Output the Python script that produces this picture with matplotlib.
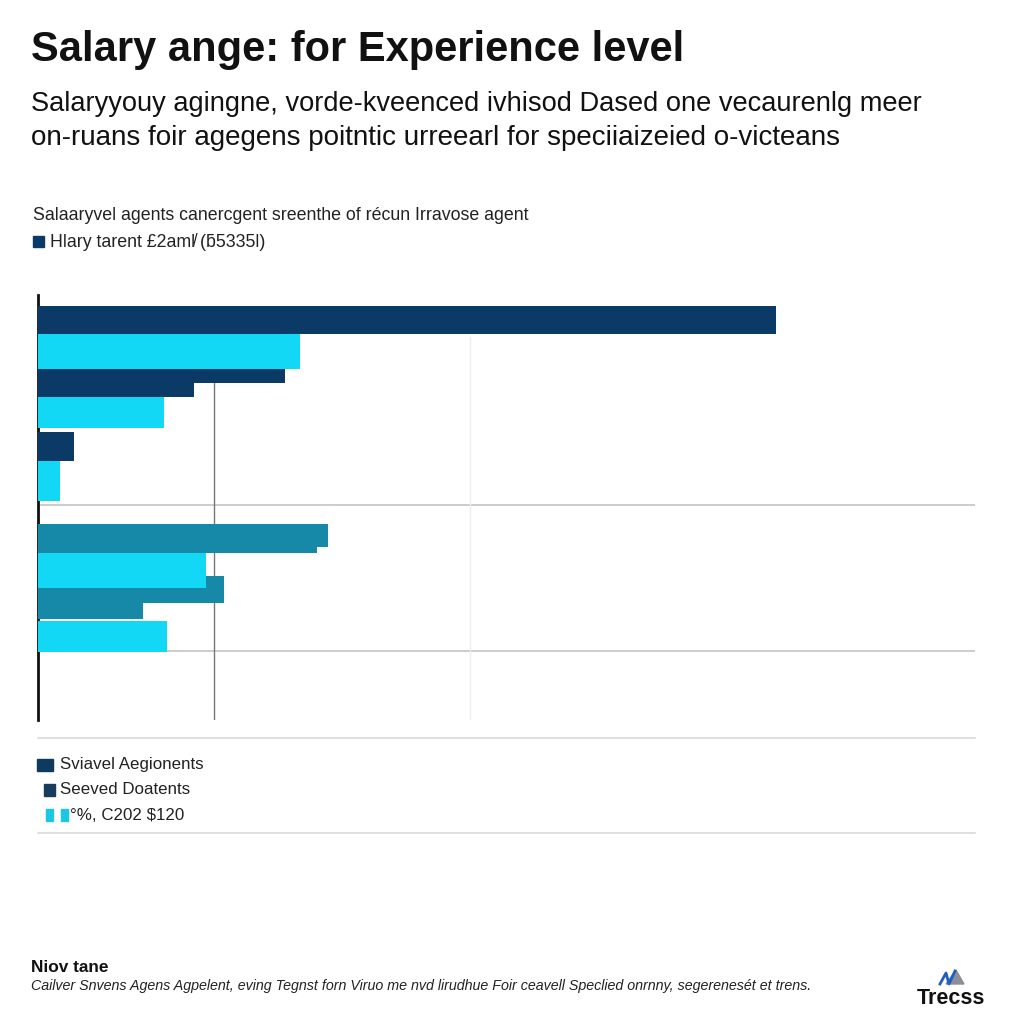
import matplotlib
matplotlib.use("Agg")
import matplotlib.pyplot as plt
from matplotlib.lines import Line2D
from matplotlib.patches import Rectangle, Polygon

# ---------------- data ----------------
title = "Salary ange: for Experience level"
subtitle_lines = [
    "Salaryyouy agingne, vorde-kveenced ivhisod Dased one vecaurenlg meer",
    "on-ruans foir agegens poitntic urreearl for speciiaizeied o-victeans",
]
top_note = "Salaaryvel agents canercgent sreenthe of récun Irravose agent"
top_legend = "Hlary tarent £2aml̸ (ƃ5335l)"
legend_labels = ["Sviavel Aegionents", "Seeved Doatents", "°%, C202 $120"]
footer_head = "Niov tane"
footer_text = ("Cailver Snvens Agens Agpelent, eving Tegnst forn Viruo me nvd lirudhue "
               "Foir ceavell Speclied onrnny, segerenesét et trens.")
logo_text = "Trecss"

# bar widths (percent of axis range)
navy_vals = [78.8, 26.4, 16.6, 3.8]
cyan_top_vals = [28.0, 13.4, 2.3]
teal_vals = [30.9, 29.8, 19.8, 11.2]
cyan_bottom_vals = [17.9, 13.8]
ref_line_value = 18.8
faint_line_value = 46.1

# ---------------- style ----------------
NAVY = "#0b3a66"
CYAN = "#12d8f5"
TEAL = "#1688a8"
SANS = ["Liberation Sans", "DejaVu Sans"]

W = H = 1024
fig = plt.figure(figsize=(10.24, 10.24), dpi=100)
fig.patch.set_facecolor("white")

def fx(px):
    return px / W

def fy(py):
    return 1 - py / H

# axes: pixel box x 38..975, y 295..720
ax = fig.add_axes([fx(38), fy(720), fx(975) - fx(38), fy(295) - fy(720)])
ax.set_xlim(0, 100)
ax.set_ylim(425, 0)  # pixel offsets from the top of the axes

# layout: (top offset, bottom offset) for every bar
navy_rows = [(11, 39), (74, 88), (88, 102), (137, 166)]
cyan_top_rows = [(39, 74), (102, 133), (166, 206)]
teal_rows = [(229, 252), (252, 258), (281, 308), (308, 324)]
cyan_bottom_rows = [(258, 293), (326, 357)]

def draw(vals, rows, color, z):
    ys = [(a + b) / 2 for a, b in rows]
    hs = [b - a for a, b in rows]
    ax.barh(ys, vals, height=hs, color=color, zorder=z, linewidth=0)

draw(navy_vals, navy_rows, NAVY, 3)
draw(cyan_top_vals, cyan_top_rows, CYAN, 3)
draw(teal_vals, teal_rows, TEAL, 3)
draw(cyan_bottom_vals, cyan_bottom_rows, CYAN, 4)

# grid / reference lines
for yo in (210, 356):
    ax.axhline(yo, color="#c4c4c4", lw=1.2, zorder=1)
ax.plot([ref_line_value, ref_line_value], [87, 425], color="#777777", lw=1.0, zorder=2)
ax.plot([faint_line_value, faint_line_value], [42, 425], color="#eeeeee", lw=1.0, zorder=1)

for s in ("top", "right", "bottom"):
    ax.spines[s].set_visible(False)
ax.spines["left"].set_color("#111111")
ax.spines["left"].set_linewidth(2)
ax.set_xticks([])
ax.set_yticks([])
ax.set_facecolor("none")

# ---------------- texts ----------------
fig.text(fx(31), fy(50), title, fontsize=30, fontweight="bold", family=SANS,
         va="center", ha="left", color="#111111")
fig.text(fx(31), fy(104), subtitle_lines[0], fontsize=19.6, family=SANS,
         va="center", ha="left", color="#111111")
fig.text(fx(31), fy(138), subtitle_lines[1], fontsize=20.0, family=SANS,
         va="center", ha="left", color="#111111")

fig.text(fx(33), fy(216), top_note, fontsize=12.8, family=SANS, va="center",
         ha="left", color="#222222")
fig.patches.append(Rectangle((fx(33), fy(247)), fx(11), 11 / H, color=NAVY,
                             transform=fig.transFigure, figure=fig))
fig.text(fx(50), fy(242), top_legend, fontsize=12.8, family=SANS, va="center",
         ha="left", color="#222222")

# bottom legend
leg_rows = [
    (765, [(37, 16)], "#0f3a60", 60),
    (790, [(44, 11)], "#163c5e", 60),
    (815, [(46, 7), (61, 7)], "#1ac8e6", 70),
]
for (py, squares, col, tx), lab in zip(leg_rows, legend_labels):
    for sx, sw in squares:
        fig.patches.append(Rectangle((fx(sx), fy(py + 6)), sw / W, 12 / H,
                                     color=col, transform=fig.transFigure, figure=fig))
    fig.text(fx(tx), fy(py), lab, fontsize=12.2, family=SANS, va="center",
             ha="left", color="#222222")

for py in (738, 833):
    fig.lines.append(Line2D([fx(38), fx(975)], [fy(py), fy(py)], color="#d6d6d6",
                            lw=1.1, transform=fig.transFigure, figure=fig))

# footer
fig.text(fx(31), fy(967), footer_head, fontsize=12.4, fontweight="bold", family=SANS,
         va="center", ha="left", color="#111111")
fig.text(fx(31), fy(986), footer_text, fontsize=10.3, style="italic", family=SANS,
         va="center", ha="left", color="#222222")

# logo
fig.text(fx(951), fy(999), logo_text, fontsize=15.5, fontweight="bold", family=SANS,
         va="center", ha="center", color="#111111")
fig.patches.append(Polygon([(fx(946), fy(984)), (fx(956), fy(970)), (fx(964), fy(984))],
                           closed=True, color="#8a8f99", transform=fig.transFigure,
                           figure=fig))
fig.lines.append(Line2D([fx(940), fx(946), fx(949), fx(955)],
                        [fy(984), fy(973), fy(984), fy(971)], color="#1f5fbf", lw=2,
                        transform=fig.transFigure, figure=fig))

fig.savefig("out.png", dpi=100, facecolor="white")
